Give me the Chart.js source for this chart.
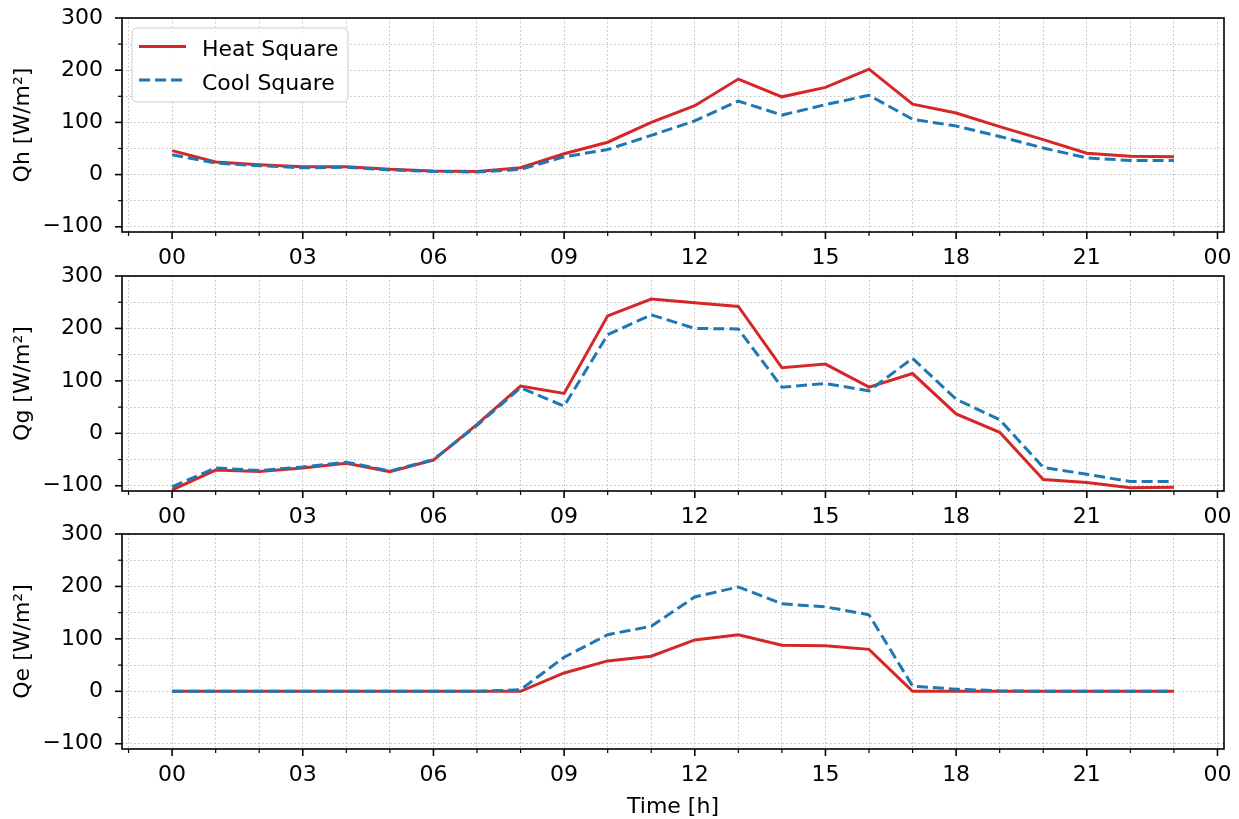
<!DOCTYPE html>
<html>
<head>
<meta charset="utf-8">
<script src="https://cdn.jsdelivr.net/npm/chart.js@4.4.1/dist/chart.umd.min.js"></script>
<style>
html,body{margin:0;padding:0;background:#fff;width:1239px;height:819px;overflow:hidden;position:relative;}
canvas{position:absolute;left:0;display:block;}
</style>
</head>
<body>
<canvas id="c1" width="1239" height="278" style="top:-8px"></canvas>
<canvas id="c2" width="1239" height="282" style="top:250px"></canvas>
<canvas id="c3" width="1239" height="312" style="top:508px"></canvas>
<script>
// ---- data ----
const hours = [0,1,2,3,4,5,6,7,8,9,10,11,12,13,14,15,16,17,18,19,20,21,22,23];
const seriesNames = ['Heat Square', 'Cool Square'];
const qhHeat = [46, 24, 19, 15, 15, 10, 7, 6, 13, 40, 62, 100, 132, 183, 149, 167, 202, 135, 118, 92, 67, 41, 35, 34];
const qhCool = [38, 22, 17, 13, 14, 9, 6, 5, 10, 34, 48, 75, 103, 141, 114, 134, 152, 106, 93, 73, 51, 32, 27, 27];
const qgHeat = [-108, -70, -73, -66, -57, -73, -51, 17, 90, 76, 224, 256, 249, 242, 125, 132, 88, 114, 37, 2, -88, -94, -104, -103];
const qgCool = [-102, -66, -71, -64, -55, -72, -50, 15, 87, 52, 188, 226, 200, 199, 88, 95, 81, 143, 65, 26, -65, -78, -92, -92];
const qeHeat = [0, 0, 0, 0, 0, 0, 0, 0, 0, 35, 58, 67, 98, 108, 88, 87, 80, 0, 0, 0, 0, 0, 0, 0];
const qeCool = [0, 0, 0, 0, 0, 0, 0, 0, 3, 65, 108, 124, 180, 199, 167, 161, 146, 10, 4, 1, 0, 0, 0, 0];
const xTickHours = [-1,0,1,2,3,4,5,6,7,8,9,10,11,12,13,14,15,16,17,18,19,20,21,22,23,24];
const yTickValues = [-100,-50,0,50,100,150,200,250,300];
const panelLabels = ['Qh [W/m²]', 'Qg [W/m²]', 'Qe [W/m²]'];
const xLabel = 'Time [h]';

// ---- style ----
const RED = '#d62728', BLUE = '#1f77b4';
const FAMILY = '"DejaVu Sans", sans-serif';
const FSIZE = 22;
const FONT = {family: FAMILY, size: FSIZE};
Chart.defaults.font.family = FAMILY;

function fmtHour(v) {
  if (v < 0 || v % 3 !== 0) return '';
  return String(v % 24).padStart(2, '0');
}
function fmtY(v) {
  if (v % 100 !== 0) return '';
  return v < 0 ? '\u2212' + Math.abs(v) : String(v);
}

const framePlugin = {
  id: 'frame',
  afterDraw(chart) {
    const {ctx, chartArea: a, scales} = chart;
    const x = scales.x, y = scales.y;
    ctx.save();
    ctx.strokeStyle = '#000';
    ctx.setLineDash([]);
    x.ticks.forEach(t => {
      const px = x.getPixelForValue(t.value);
      const major = fmtHour(t.value) !== '';
      ctx.lineWidth = major ? 1.6 : 1.2;
      ctx.beginPath();
      ctx.moveTo(px, a.bottom);
      ctx.lineTo(px, a.bottom + (major ? 7 : 4));
      ctx.stroke();
    });
    y.ticks.forEach(t => {
      const py = y.getPixelForValue(t.value);
      const major = fmtY(t.value) !== '';
      ctx.lineWidth = major ? 1.6 : 1.2;
      ctx.beginPath();
      ctx.moveTo(a.left, py);
      ctx.lineTo(a.left - (major ? 7 : 4), py);
      ctx.stroke();
    });
    ctx.lineWidth = 1.6;
    ctx.strokeRect(a.left, a.top, a.right - a.left, a.bottom - a.top);
    ctx.restore();
  }
};

const legendPlugin = {
  id: 'boxLegend',
  afterDraw(chart) {
    const {ctx, chartArea: a} = chart;
    const x0 = a.left + 10, y0 = a.top + 10, w = 216, h = 74;
    ctx.save();
    ctx.beginPath();
    ctx.roundRect(x0, y0, w, h, 5);
    ctx.fillStyle = 'rgba(255,255,255,0.8)';
    ctx.fill();
    ctx.strokeStyle = '#cccccc';
    ctx.lineWidth = 1;
    ctx.stroke();
    chart.data.datasets.forEach((ds, i) => {
      const cy = y0 + 18.5 + i * 33.5;
      ctx.strokeStyle = ds.borderColor;
      ctx.lineWidth = ds.borderWidth;
      ctx.setLineDash(ds.borderDash || []);
      ctx.beginPath();
      ctx.moveTo(x0 + 7, cy);
      ctx.lineTo(x0 + 54, cy);
      ctx.stroke();
      ctx.setLineDash([]);
      ctx.fillStyle = '#000';
      ctx.font = FSIZE + 'px ' + FAMILY;
      ctx.textBaseline = 'alphabetic';
      ctx.textAlign = 'left';
      ctx.fillText(ds.label, x0 + 70, cy + 9.5);
    });
    ctx.restore();
  }
};

function gridOpts() {
  return {color: '#c0c0c0', lineWidth: 1, borderDash: [1.5, 2.5], drawTicks: true, tickLength: 7, tickColor: 'rgba(0,0,0,0)'};
}

function makeChart(id, heat, cool, yLabel, xH, showXTitle, withLegend) {
  return new Chart(document.getElementById(id), {
    type: 'line',
    data: {
      datasets: [
        {label: seriesNames[0], data: hours.map((h, i) => ({x: h, y: heat[i]})), borderColor: RED, backgroundColor: RED,
         borderWidth: 3, pointRadius: 0, tension: 0, fill: false, order: 1},
        {label: seriesNames[1], data: hours.map((h, i) => ({x: h, y: cool[i]})), borderColor: BLUE, backgroundColor: BLUE,
         borderWidth: 3, borderDash: [11, 5], pointRadius: 0, tension: 0, fill: false, order: 0}
      ]
    },
    options: {
      responsive: false, animation: false, events: [],
      layout: {padding: {top: 26, right: 15, bottom: 0, left: 0}},
      plugins: {legend: {display: false}, tooltip: {enabled: false}},
      scales: {
        x: {
          type: 'linear', min: -1.15, max: 24.15,
          afterBuildTicks: s => { s.ticks = xTickHours.map(v => ({value: v})); },
          afterFit: s => { s.height = xH; },
          ticks: {autoSkip: false, maxRotation: 0, minRotation: 0, padding: 6, color: '#000', font: FONT, callback: v => fmtHour(v)},
          grid: gridOpts(),
          border: {display: false, dash: [1.5, 2.5]},
          title: {display: showXTitle, text: xLabel, font: FONT, color: '#000', padding: {top: 0, bottom: 0}}
        },
        y: {
          type: 'linear', min: -110, max: 300,
          afterBuildTicks: s => { s.ticks = yTickValues.map(v => ({value: v})); },
          afterFit: s => { s.width = 122; },
          ticks: {autoSkip: false, padding: 12, color: '#000', font: FONT, callback: v => fmtY(v)},
          grid: gridOpts(),
          border: {display: false, dash: [1.5, 2.5]},
          title: {display: true, text: yLabel, font: FONT, color: '#000', padding: {top: 10, bottom: 0}}
        }
      }
    },
    plugins: withLegend ? [framePlugin, legendPlugin] : [framePlugin]
  });
}

makeChart('c1', qhHeat, qhCool, panelLabels[0], 38, false, true);
makeChart('c2', qgHeat, qgCool, panelLabels[1], 41, false, false);
makeChart('c3', qeHeat, qeCool, panelLabels[2], 71, true, false);
</script>
</body>
</html>
